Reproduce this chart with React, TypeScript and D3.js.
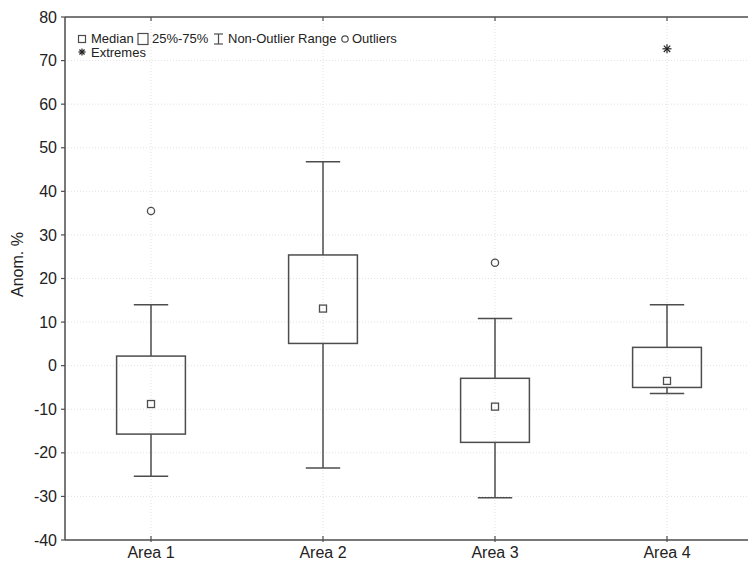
import React from "react";
import { scaleLinear, scaleBand, range } from "d3";

const areas = ["Area 1", "Area 2", "Area 3", "Area 4"];
const whiskerLow = [-25.4, -23.5, -30.3, -6.4];
const q1 = [-15.7, 5.1, -17.6, -5.0];
const median = [-8.8, 13.1, -9.4, -3.5];
const q3 = [2.2, 25.4, -2.9, 4.2];
const whiskerHigh = [14, 46.8, 10.8, 14];
const outliers = [[35.5], [], [23.6], []];
const extremes = [[], [], [], [72.7]];
const yTicks = range(-40, 81, 10);

const W = 748;
const H = 562;
const left = 65;
const top = 17;
const bottom = 540;
const ink = "#4d4d4d";
const font = "'Liberation Sans', Arial, sans-serif";

function Asterisk({ x, y, r }: { x: number; y: number; r: number }) {
  const arms = [0, 45, 90, 135];
  return (
    <g stroke="#222" strokeWidth={1.2}>
      {arms.map(a => {
        const rad = (a * Math.PI) / 180;
        return (
          <line key={a} x1={x - r * Math.cos(rad)} y1={y - r * Math.sin(rad)}
            x2={x + r * Math.cos(rad)} y2={y + r * Math.sin(rad)} />
        );
      })}
    </g>
  );
}

export default function App() {
  const x = scaleBand<string>().domain(areas).range([left, left + 4 * 172]).padding(0);
  const y = scaleLinear().domain([-40, 80]).range([bottom, top]);
  const bw = x.bandwidth();
  const boxW = bw * 0.4;
  const capW = bw * 0.2;
  const cx = (a: string) => (x(a) as number) + bw / 2;

  return (
    <svg width={W} height={H} style={{ position: "absolute", left: 0, top: 0, background: "#fff" }} fontFamily={font}>
      {/* grid */}
      <g stroke="#e2e2e2" strokeWidth={1} strokeDasharray="1,2">
        {yTicks.slice(1, -1).map(t => (
          <line key={t} x1={left} x2={W} y1={y(t)} y2={y(t)} />
        ))}
        {areas.map(a => (
          <line key={a} x1={cx(a)} x2={cx(a)} y1={top} y2={bottom} />
        ))}
      </g>

      {/* frame */}
      <g stroke={ink} strokeWidth={1.5} fill="none">
        <line x1={left} x2={W} y1={top} y2={top} />
        <line x1={left} x2={W} y1={bottom} y2={bottom} />
        <line x1={left} x2={left} y1={top} y2={bottom} />
      </g>

      {/* y axis */}
      <g>
        {yTicks.map(t => (
          <g key={t}>
            <line x1={left - 4} x2={left} y1={y(t)} y2={y(t)} stroke={ink} strokeWidth={1.2} />
            <text x={left - 8} y={y(t)} dy="0.35em" textAnchor="end" fontSize={16} fill="#222">{t}</text>
          </g>
        ))}
        <text transform={`translate(23,${(top + bottom) / 2 - 14}) rotate(-90)`} textAnchor="middle" fontSize={16} fill="#222">Anom. %</text>
      </g>

      {/* x axis */}
      <g>
        {areas.map(a => (
          <g key={a}>
            <line x1={cx(a)} x2={cx(a)} y1={bottom - 4} y2={bottom + 2} stroke={ink} strokeWidth={1.2} />
            <line x1={cx(a)} x2={cx(a)} y1={top} y2={top + 4} stroke={ink} strokeWidth={1.2} />
            <text x={cx(a)} y={bottom + 18} textAnchor="middle" fontSize={16} fill="#222">{a}</text>
          </g>
        ))}
      </g>

      {/* boxes */}
      <g stroke={ink} strokeWidth={1.5} fill="none">
        {areas.map((a, i) => {
          const c = cx(a);
          return (
            <g key={a}>
              <line x1={c} x2={c} y1={y(whiskerHigh[i])} y2={y(q3[i])} />
              <line x1={c} x2={c} y1={y(q1[i])} y2={y(whiskerLow[i])} />
              <line x1={c - capW / 2} x2={c + capW / 2} y1={y(whiskerHigh[i])} y2={y(whiskerHigh[i])} />
              <line x1={c - capW / 2} x2={c + capW / 2} y1={y(whiskerLow[i])} y2={y(whiskerLow[i])} />
              <rect x={c - boxW / 2} y={y(q3[i])} width={boxW} height={y(q1[i]) - y(q3[i])} />
              <rect x={c - 3.5} y={y(median[i]) - 3.5} width={7} height={7} strokeWidth={1.3} />
              {outliers[i].map((v, j) => (
                <circle key={j} cx={c} cy={y(v)} r={3.6} strokeWidth={1.3} />
              ))}
              {extremes[i].map((v, j) => (
                <Asterisk key={j} x={c} y={y(v)} r={4.5} />
              ))}
            </g>
          );
        })}
      </g>

      {/* legend */}
      <g fontSize={13} fill="#222">
        <rect x={78.5} y={35.5} width={7} height={7} fill="none" stroke={ink} strokeWidth={1.2} />
        <text x={91} y={43}>Median</text>
        <rect x={138} y={33.5} width={10} height={11} fill="none" stroke={ink} strokeWidth={1.2} />
        <text x={152} y={43}>25%-75%</text>
        <g stroke={ink} strokeWidth={1.2}>
          <line x1={214} x2={223} y1={34} y2={34} />
          <line x1={214} x2={223} y1={44} y2={44} />
          <line x1={218.5} x2={218.5} y1={34} y2={44} />
        </g>
        <text x={228} y={43}>Non-Outlier Range</text>
        <circle cx={345} cy={39} r={3.2} fill="none" stroke={ink} strokeWidth={1.2} />
        <text x={352} y={43}>Outliers</text>
        <Asterisk x={82} y={52} r={3.6} />
        <text x={91} y={57}>Extremes</text>
      </g>
    </svg>
  );
}
